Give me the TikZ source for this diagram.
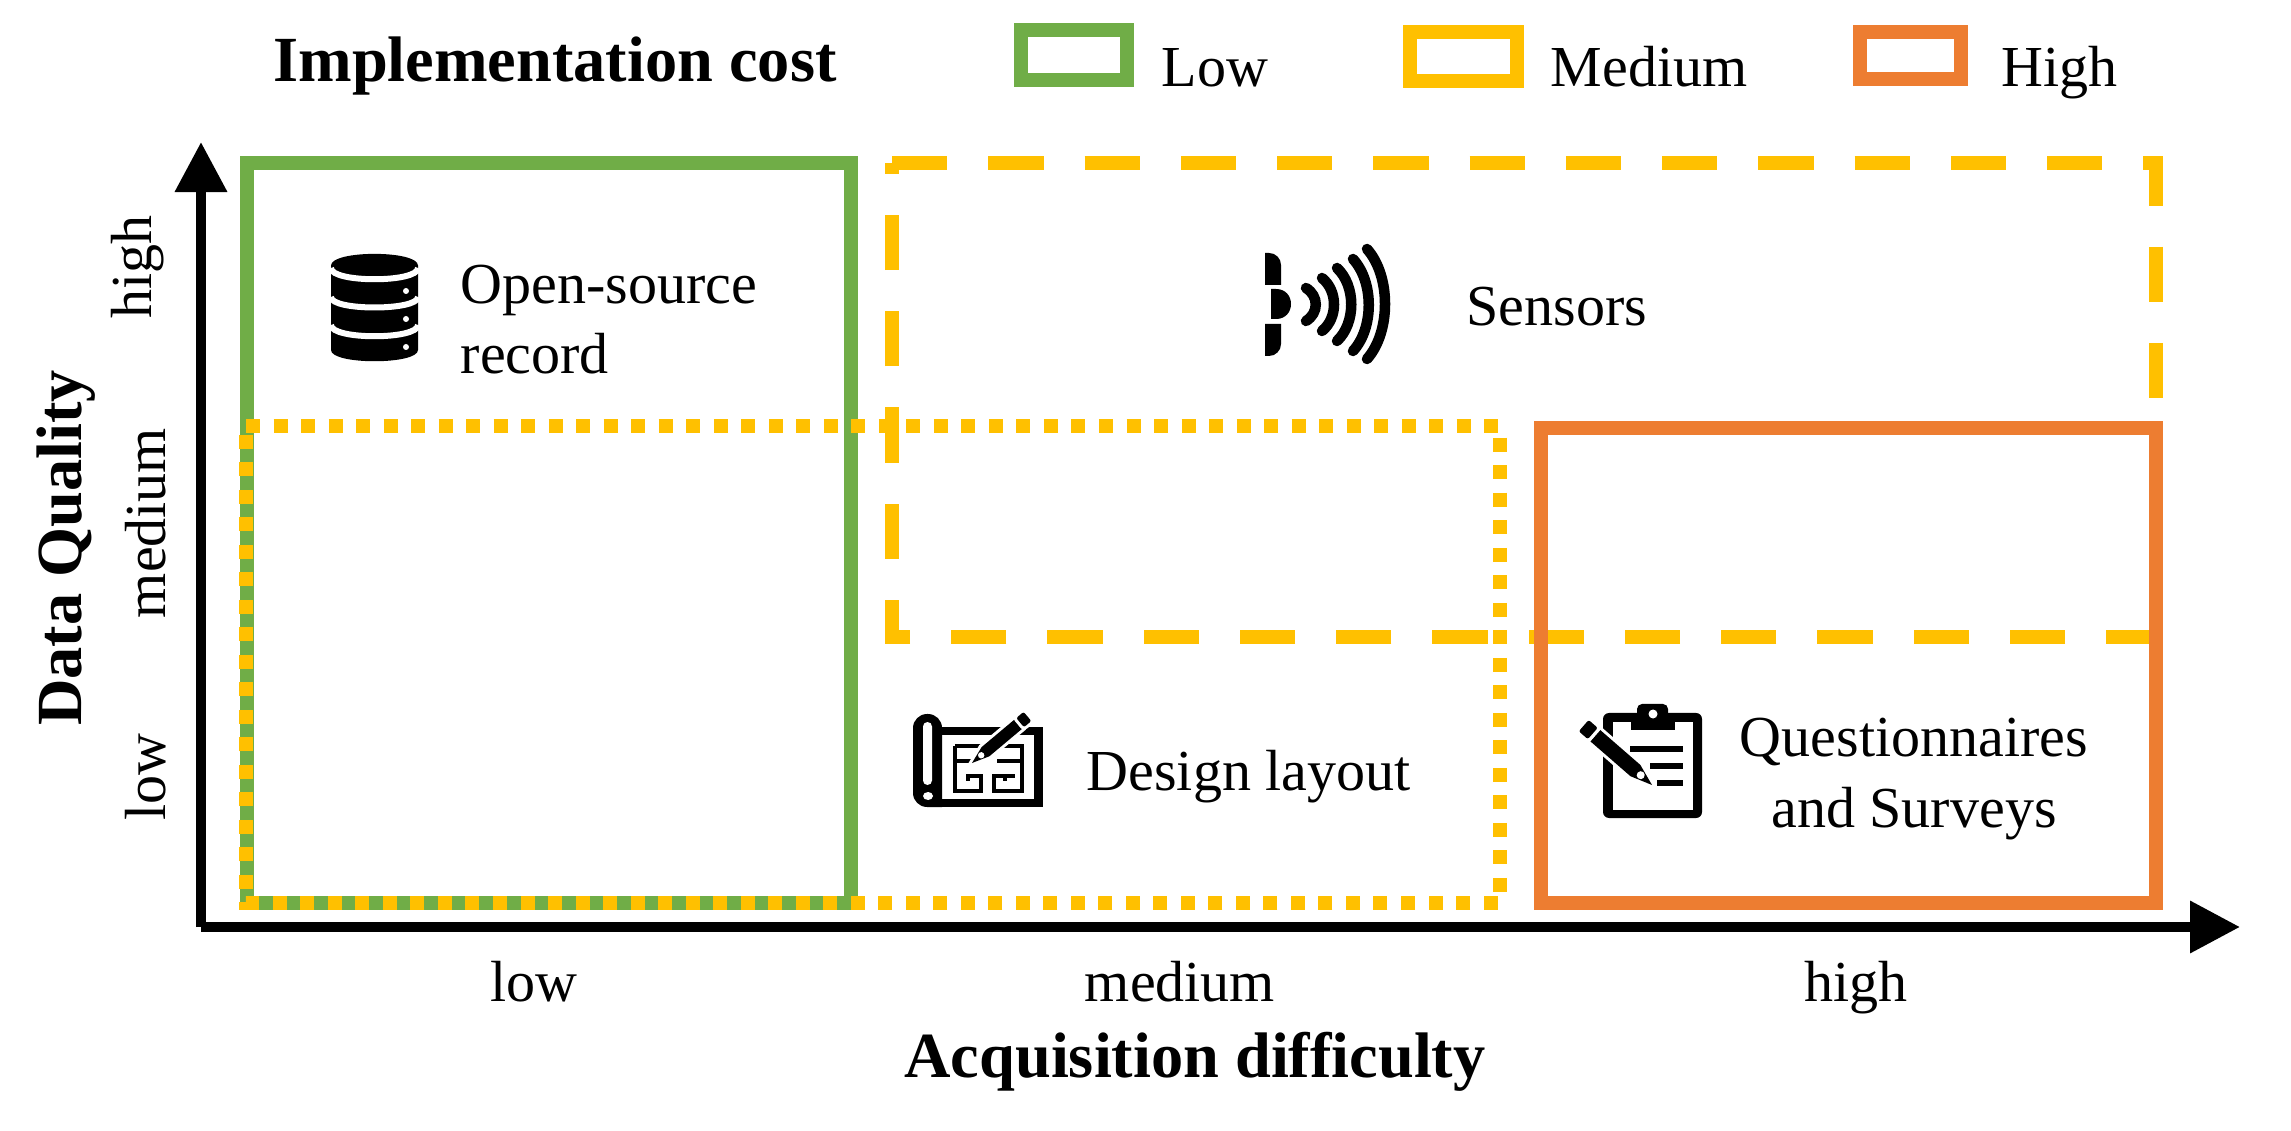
\documentclass[tikz,border=0pt]{standalone}
\usepackage{fontspec}
\setmainfont{Liberation Serif}
\usetikzlibrary{arrows.meta}
\definecolor{lowgreen}{HTML}{70AD47}
\definecolor{midyellow}{HTML}{FFC000}
\definecolor{highorange}{HTML}{ED7D31}
\tikzset{
  label text/.style={font=\fontsize{16.5}{19.9}\selectfont,inner sep=0pt},
  title text/.style={font=\fontsize{18.3}{22}\selectfont\bfseries,inner sep=0pt},
  axis line/.style={line width=0.1cm,-{Triangle[length=0.5cm,width=0.5cm]}},
  low box/.style={draw=lowgreen,line width=0.14cm},
  mid box/.style={draw=midyellow,line width=0.14cm},
  dash box/.style={mid box,dash pattern=on 0.553cm off 0.409cm},
  dot box/.style={mid box,dash pattern=on 0.14cm off 0.135cm},
  high box/.style={draw=highorange,line width=0.14cm},
  wave/.style={line width=0.105cm,line cap=round},
  wall/.style={line width=0.035cm},
  pen part/.style={fill=black,preaction={draw=white,line width=0.06cm}},
  pics/pencil/.style={code={
    \path[pen part] (0,0) -- (22,7.5) -- (75,7.5) -- (75,-7.5) -- (22,-7.5) -- cycle;
    \path[pen part,rounded corners=0.02cm] (78.5,7.5) -- (90.5,7.5) -- (90.5,-7.5) -- (78.5,-7.5) -- cycle;
    \fill[white] (15,0) circle (0.04cm);
  }}
}
\begin{document}
\begin{tikzpicture}[x=0.01cm,y=-0.01cm]
  \useasboundingbox[fill=white] (0,0) rectangle (2291,1131);
  % legend
  \node[title text,anchor=base] (costtitle) at (555,82) {Implementation cost};
  \draw[low box] (1021,30) rectangle (1127,80);
  \node[label text,anchor=base west] (legendlow) at (1161,87) {Low};
  \draw[mid box] (1410,32) rectangle (1517,81);
  \node[label text,anchor=base west] (legendmid) at (1550,87) {Medium};
  \draw[high box] (1860,32) rectangle (1961,79);
  \node[label text,anchor=base west] (legendhigh) at (2001,87) {High};
  % regions
  \draw[low box] (247,163) -- (851,163) -- (851,903) -- (247,903) -- cycle;
  \draw[dot box] (246,426) -- (1500,426) -- (1500,903) -- (246,903) -- cycle;
  \draw[dash box] (892,163) -- (2156,163) -- (2156,637) -- (892,637) -- cycle;
  \draw[high box] (1541,428) -- (2156,428) -- (2156,903) -- (1541,903) -- cycle;
  % axes
  \coordinate (origin) at (201,927);
  \coordinate (ytip) at (201,142);
  \coordinate (xtip) at (2240,927);
  \draw[axis line] (origin) -- (ytip);
  \draw[axis line] (origin) -- (xtip);
  \node[label text,anchor=base] (xlow) at (534,1001) {low};
  \node[label text,anchor=base] (xmid) at (1180,1001) {medium};
  \node[label text,anchor=base] (xhigh) at (1856,1001) {high};
  \node[title text,anchor=base] (xtitle) at (1195,1077) {Acquisition difficulty};
  \node[label text,anchor=base,rotate=90] (ylow) at (165,777) {low};
  \node[label text,anchor=base,rotate=90] (ymid) at (165,523) {medium};
  \node[label text,anchor=base,rotate=90] (yhigh) at (151,267) {high};
  \node[title text,anchor=base,rotate=90] (ytitle) at (81,548) {Data Quality};
  % database
  \fill (331,265.5) .. controls (331,250) and (418,250) .. (418,265.5) -- (418,350)
    .. controls (418,365) and (331,365) .. (331,350) -- cycle;
  \draw[white,line width=0.06cm] (331,268) .. controls (331,283) and (418,283) .. (418,268);
  \draw[white,line width=0.06cm] (331,297) .. controls (331,311) and (418,311) .. (418,297);
  \draw[white,line width=0.06cm] (331,325) .. controls (331,340) and (418,340) .. (418,325);
  \fill[white] (406,291) circle (0.03cm);
  \fill[white] (406,319) circle (0.03cm);
  \fill[white] (406,347) circle (0.03cm);
  \node[label text,anchor=base west] (opensource) at (460,304) {Open-source};
  \node[label text,anchor=base west] (record) at (460,374) {record};
  % sensor
  \fill (1265,253) [rounded corners=0.12cm] -- (1281,253) [sharp corners] -- (1281,285) -- (1265,285) -- cycle;
  \fill (1265,324) -- (1281,324) [rounded corners=0.12cm] -- (1281,356) [sharp corners] -- (1265,356) -- cycle;
  \fill (1271,289) -- (1276,289) .. controls (1296,289) and (1296,319) .. (1276,319) -- (1271,319) -- cycle;
  \draw[wave] (1306,288) .. controls (1319,296) and (1319,313) .. (1306,321);
  \draw[wave] (1322,278) .. controls (1338,291) and (1338,318) .. (1322,331);
  \draw[wave] (1337,268) .. controls (1356,286) and (1356,323) .. (1337,341);
  \draw[wave] (1353,259) .. controls (1374,282) and (1374,328) .. (1353,351);
  \draw[wave] (1367,249) .. controls (1391,276) and (1391,332) .. (1367,359);
  \node[label text,anchor=base west] (sensors) at (1466,326) {Sensors};
  % blueprint
  \fill (942,727) rectangle (1043,807);
  \fill[white] (942,735) rectangle (1034,799);
  \fill[rounded corners=0.14cm] (942,807) -- (913,807) -- (913,714) -- (942,714) [sharp corners] -- cycle;
  \fill[white,rounded corners=0.045cm] (923,722) rectangle (932,785);
  \fill[white] (928,796) ellipse [x radius=5,y radius=4];
  \draw[wall] (955,746) -- (955,791) -- (981,791) -- (981,776) -- (968,776) -- (968,781);
  \draw[wall] (955,761) -- (971,761);
  \draw[wall] (955,746) -- (1022,746) -- (1022,791) -- (994,791) -- (994,776) -- (1015,776);
  \draw[wall] (997,761) -- (1022,761);
  \draw[wall] (1005,776) -- (1005,781);
  \pic[rotate=40,scale=0.8] (planpen) at (972,763) {pencil};
  \node[label text,anchor=base west] (layout) at (1086,790) {Design layout};
  % clipboard
  \fill[rounded corners=0.06cm] (1603,713) rectangle (1702,818);
  \fill[white] (1613,722) rectangle (1693,810);
  \fill (1631,713) rectangle (1675,730);
  \fill[rounded corners=0.05cm] (1637,704) rectangle (1668,722);
  \fill[white] (1653,714) circle (0.045cm);
  \fill (1630,746) rectangle (1683,752);
  \fill (1650,763) rectangle (1683,769);
  \fill (1657,780) rectangle (1683,786);
  \pic[rotate=139] (surveypen) at (1652,785) {pencil};
  \node[label text,anchor=base] (questionnaires) at (1914,757) {Questionnaires};
  \node[label text,anchor=base] (surveys) at (1914,827) {and Surveys};
\end{tikzpicture}
\end{document}
